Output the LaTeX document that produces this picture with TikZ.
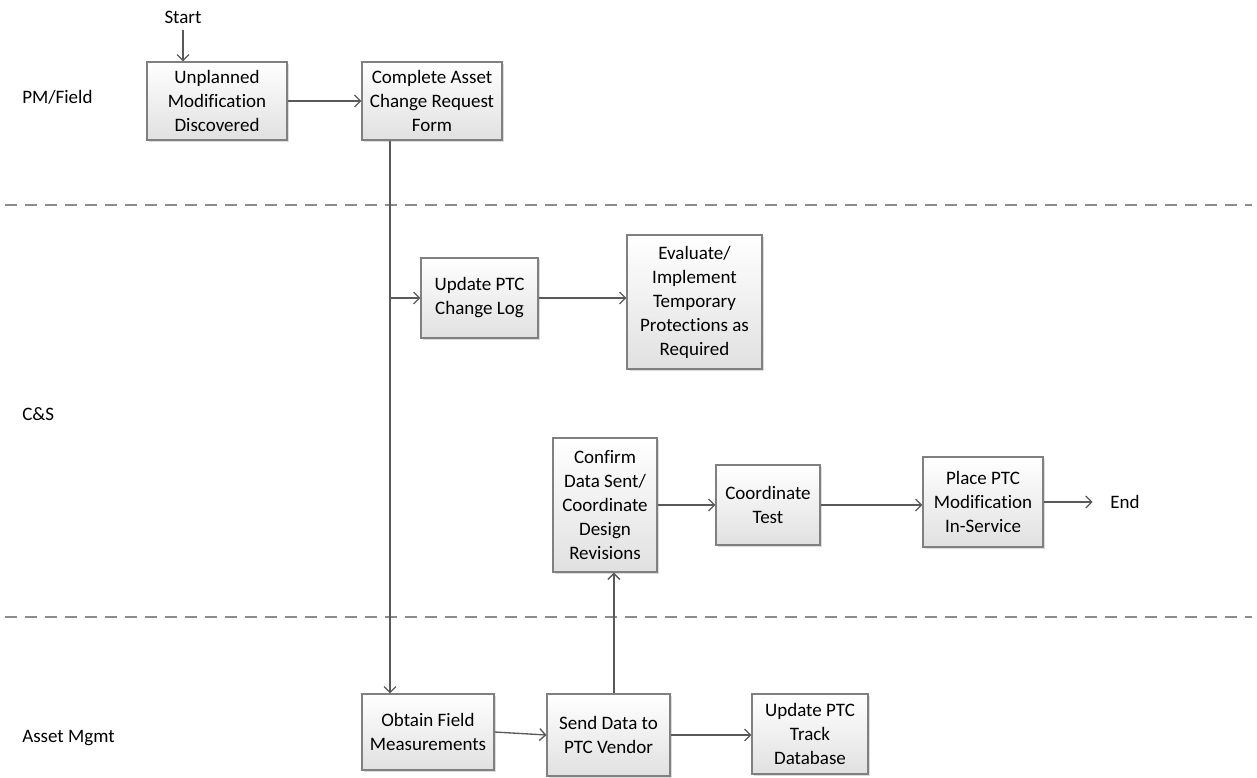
\documentclass[tikz,border=0pt]{standalone}
\usepackage{fontspec}
\setmainfont{Carlito}[Ligatures=NoCommon]
\usepackage{xcolor}
\usetikzlibrary{arrows.meta,shadows}
\definecolor{boxline}{RGB}{128,128,128}
\definecolor{flowline}{RGB}{89,89,89}
\definecolor{lanedash}{RGB}{140,140,140}

\begin{document}
\begin{tikzpicture}[x=0.75pt,y=-0.75pt,
  every node/.style={font=\fontsize{14.25}{18}\selectfont,inner sep=0pt,align=center},
  box/.style={draw=boxline,line width=0.8pt,top color=white,bottom color=black!12,
    drop shadow={shadow xshift=1.5pt,shadow yshift=-1.5pt,opacity=0.3,fill=black!45}},
  flow/.style={draw=flowline,line width=1pt,-{Straight Barb[length=4.5pt,width=9pt]}},
  lane/.style={draw=lanedash,line width=0.8pt,dash pattern=on 9pt off 6pt}]
\useasboundingbox (0,0) rectangle (1257,778);
\draw[lane] (5,205) -- (1252,205);
\draw[lane] (5,617) -- (1252,617);
\node[anchor=west] (pmfield) at (22,97) {PM/Field};
\node[anchor=west] (cands) at (22,414) {C\&S};
\node[anchor=west] (assetmgmt) at (22,738) {Asset Mgmt};
\node (start) at (183,17) {Start};
\node[box,minimum width=105pt,minimum height=58.5pt] (unplanned) at (217,101) {Unplanned\\Modification\\Discovered};
\node[box,minimum width=105pt,minimum height=58.5pt] (complete) at (432,101) {Complete Asset\\Change Request\\Form};
\node[box,minimum width=87.75pt,minimum height=60pt] (changelog) at (479.5,298) {Update PTC\\Change Log};
\node[box,minimum width=101.25pt,minimum height=100.5pt] (evaluate) at (694.5,302) {Evaluate/\\Implement\\Temporary\\Protections as\\Required};
\node[box,minimum width=78pt,minimum height=100.5pt] (confirm) at (605,505) {Confirm\\Data Sent/\\Coordinate\\Design\\Revisions};
\node[box,minimum width=78pt,minimum height=60pt] (coordtest) at (768,505) {Coordinate\\Test};
\node[box,minimum width=90pt,minimum height=67.5pt] (place) at (983,502) {Place PTC\\Modification\\In-Service};
\node[anchor=west] (finish) at (1110,502) {End};
\node[box,minimum width=99pt,minimum height=57pt] (obtain) at (428,732) {Obtain Field\\Measurements};
\node[box,minimum width=92.25pt,minimum height=61.5pt] (send) at (608.5,735) {Send Data to\\PTC Vendor};
\node[box,minimum width=87pt,minimum height=60pt] (track) at (810,734) {Update PTC\\Track\\Database};
\draw[flow,shorten <=5pt] (start.south) -- (start.south |- unplanned.north);
\draw[flow] (unplanned.east) -- (complete.west);
\draw[flow] ([xshift=-31.5pt]complete.south) -- ([xshift=-31.5pt]complete.south |- obtain.north);
\draw[flow] ([xshift=-31.5pt]complete.south |- changelog.west) -- (changelog.west);
\draw[flow] (changelog.east) -- (changelog.east -| evaluate.west);
\draw[flow] (obtain.east) -- (send.west);
\draw[flow] (send.east) -- (send.east -| track.west);
\draw[flow] ([xshift=4pt]send.north) -- ([xshift=4pt]send.north |- confirm.south);
\draw[flow] (confirm.east) -- (coordtest.west);
\draw[flow] (coordtest.east) -- (coordtest.east -| place.west);
\draw[flow,shorten >=13pt] (place.east) -- (place.east -| finish.west);
\end{tikzpicture}
\end{document}
